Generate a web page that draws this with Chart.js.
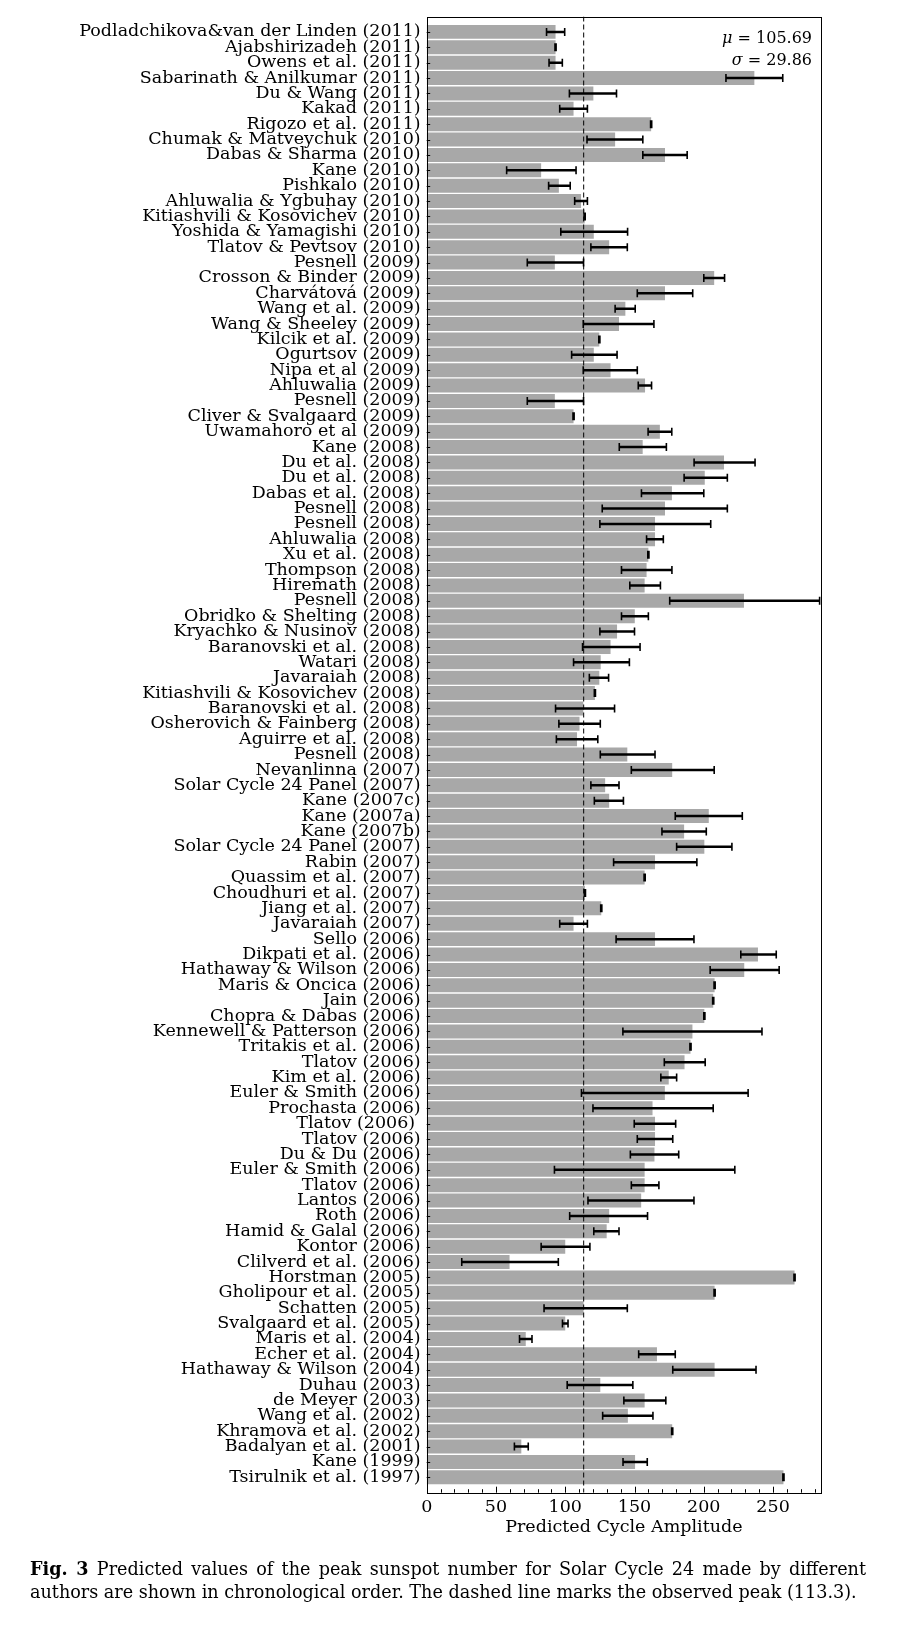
<!DOCTYPE html>
<html lang="en">
<head>
    <meta charset="UTF-8">
    <title>Predicted Solar Cycle 24 amplitudes</title>
    <script src="https://cdn.jsdelivr.net/npm/chart.js"></script>
    <style>
        html, body { margin: 0; padding: 0; background: #fff; }
        .wrap { position: relative; width: 906px; height: 1629px; }
        #amplitudeChart { position: absolute; left: 0; top: 0; }
        .caption {
            position: absolute; left: 30px; top: 1557px; width: 836px;
            font-family: "DejaVu Serif", serif; font-size: 17.6px; line-height: 23px; color: #000;
        }
        .caption .first { text-align: justify; text-align-last: justify; }
    </style>
</head>
<body>
    <div class="wrap">
        <canvas id="amplitudeChart" width="906" height="1629"></canvas>
        <div class="caption">
            <div class="first"><b>Fig. 3</b> Predicted values of the peak sunspot number for Solar Cycle 24 made by different</div>
            <div>authors are shown in chronological order. The dashed line marks the observed peak (113.3).</div>
        </div>
    </div>

    <script>
        // Predictions, in chronological order (top = newest)
        const authors = [
            'Podladchikova&van der Linden (2011)', 'Ajabshirizadeh (2011)', 'Owens et al. (2011)',
            'Sabarinath & Anilkumar (2011)', 'Du & Wang (2011)', 'Kakad (2011)', 'Rigozo et al. (2011)',
            'Chumak & Matveychuk (2010)', 'Dabas & Sharma (2010)', 'Kane (2010)', 'Pishkalo (2010)',
            'Ahluwalia & Ygbuhay (2010)', 'Kitiashvili & Kosovichev (2010)', 'Yoshida & Yamagishi (2010)',
            'Tlatov & Pevtsov (2010)', 'Pesnell (2009)', 'Crosson & Binder (2009)', 'Charvátová (2009)',
            'Wang et al. (2009)', 'Wang & Sheeley (2009)', 'Kilcik et al. (2009)', 'Ogurtsov (2009)',
            'Nipa et al (2009)', 'Ahluwalia (2009)', 'Pesnell (2009)', 'Cliver & Svalgaard (2009)',
            'Uwamahoro et al (2009)', 'Kane (2008)', 'Du et al. (2008)', 'Du et al. (2008)',
            'Dabas et al. (2008)', 'Pesnell (2008)', 'Pesnell (2008)', 'Ahluwalia (2008)', 'Xu et al. (2008)',
            'Thompson (2008)', 'Hiremath (2008)', 'Pesnell (2008)', 'Obridko & Shelting (2008)',
            'Kryachko & Nusinov (2008)', 'Baranovski et al. (2008)', 'Watari (2008)', 'Javaraiah (2008)',
            'Kitiashvili & Kosovichev (2008)', 'Baranovski et al. (2008)', 'Osherovich & Fainberg (2008)',
            'Aguirre et al. (2008)', 'Pesnell (2008)', 'Nevanlinna (2007)', 'Solar Cycle 24 Panel (2007)',
            'Kane (2007c)', 'Kane (2007a)', 'Kane (2007b)', 'Solar Cycle 24 Panel (2007)', 'Rabin (2007)',
            'Quassim et al. (2007)', 'Choudhuri et al. (2007)', 'Jiang et al. (2007)', 'Javaraiah (2007)',
            'Sello (2006)', 'Dikpati et al. (2006)', 'Hathaway & Wilson (2006)', 'Maris & Oncica (2006)',
            'Jain (2006)', 'Chopra & Dabas (2006)', 'Kennewell & Patterson (2006)', 'Tritakis et al. (2006)',
            'Tlatov (2006)', 'Kim et al. (2006)', 'Euler & Smith (2006)', 'Prochasta (2006)', 'Tlatov (2006) ',
            'Tlatov (2006)', 'Du & Du (2006)', 'Euler & Smith (2006)', 'Tlatov (2006)', 'Lantos (2006)',
            'Roth (2006)', 'Hamid & Galal (2006)', 'Kontor (2006)', 'Clilverd et al. (2006)', 'Horstman (2005)',
            'Gholipour et al. (2005)', 'Schatten (2005)', 'Svalgaard et al. (2005)', 'Maris et al. (2004)',
            'Echer et al. (2004)', 'Hathaway & Wilson (2004)', 'Duhau (2003)', 'de Meyer (2003)',
            'Wang et al. (2002)', 'Khramova et al. (2002)', 'Badalyan et al. (2001)', 'Kane (1999)',
            'Tsirulnik et al. (1997)'
        ];

        const amplitude = [
            93, 93, 93, 236.5, 120.3, 106, 162, 136, 172, 82.6, 95.4, 111.4, 114, 120.6, 131.7, 92.5,
            207.5, 172, 143.4, 138.8, 124.6, 120.6, 132.7, 157.6, 92.5, 106, 168.3, 155.9, 214.6, 200.7,
            177, 172, 164.8, 164.8, 160, 158.7, 157.3, 229, 150.2, 137.4, 132.7, 125.6, 124.6, 121.4,
            113, 110.3, 108.5, 144.8, 177.2, 128.8, 131.7, 203.6, 185.8, 200.4, 164.8, 157.3, 114.2, 126,
            106, 164.8, 239.1, 229.2, 207.8, 206.8, 200.4, 191.8, 190.4, 186.1, 174.7, 171.9, 163, 164.8,
            164.8, 164.4, 157.3, 157.3, 154.8, 131.7, 129.9, 100, 59.8, 265.5, 207.8, 113.2, 100, 71.5,
            166.2, 207.8, 125.3, 157.3, 145.2, 177.2, 68.3, 150.4, 257.5
        ];

        // error bar ends (low / high)
        const errLow = [
            86.5, 92.6, 88.3, 216, 103, 96, 161.6, 115.7, 156, 57.7, 88, 106.8, 113.6, 96.8, 118.5, 72.6,
            200, 152, 136, 113, 124.2, 104.6, 113, 152.7, 72.6, 105.6, 159.8, 139, 193, 185.8,
            155, 126.7, 125, 158.7, 159.6, 140.6, 146.6, 175.4, 140.6, 125, 112.5, 106, 117.4, 121,
            93, 95.4, 93.6, 125.3, 147.7, 118.5, 121, 179.4, 169.8, 180.4, 134.9, 156.9, 113.8, 125.6,
            96, 136.7, 226.7, 204.6, 207.4, 206.4, 200, 141.6, 190, 171.5, 169, 111.7, 120, 149.8,
            152, 147, 92.2, 147.7, 116.4, 103.2, 120.6, 82.6, 25.3, 265.1, 207.4, 84.7, 98, 67,
            153, 177.6, 101.4, 142.3, 127, 176.8, 63.3, 141.7, 257.1
        ];
        const errHigh = [
            99.6, 93.4, 97.9, 257, 137, 116, 162.4, 156, 188, 107.8, 103.6, 116, 114.4, 145, 144.8, 113.2,
            215, 192, 150.5, 164, 125, 137.4, 152, 162.3, 113.2, 106.4, 176.9, 173, 237, 217,
            200, 217, 205, 170.8, 160.4, 177, 168.7, 283.6, 160, 150, 154, 146.3, 131.3, 121.8,
            135.6, 125.3, 123.5, 164.8, 207.5, 138.8, 142, 227.8, 201.8, 220.3, 195, 157.7, 114.6, 126.4,
            116, 192.9, 252.3, 254.4, 208.2, 207.2, 200.8, 242, 190.8, 201, 180.4, 232, 206.8, 179.7,
            177.6, 181.9, 222.4, 167.6, 192.9, 159.4, 138.8, 117.8, 95, 265.9, 208.2, 144.8, 102, 76,
            179.4, 237.7, 148.8, 172.6, 163.3, 177.6, 73.3, 159.2, 257.9
        ];

        const xTicks = [0, 50, 100, 150, 200, 250];
        const observedPeak = 113.3;
        const statMu = '105.69';
        const statSigma = '29.86';

        const FONT = '"DejaVu Serif", serif';

        // error bars, dashed line, frame, inward ticks, stats box
        const decorations = {
            id: 'decorations',
            afterDatasetsDraw(chart) {
                const { ctx, chartArea: a, scales: { x, y } } = chart;
                ctx.save();
                ctx.beginPath();
                ctx.rect(a.left, a.top, a.right - a.left, a.bottom - a.top);
                ctx.clip();

                // observed peak
                const px = x.getPixelForValue(observedPeak);
                ctx.strokeStyle = '#000';
                ctx.lineWidth = 1;
                ctx.setLineDash([5, 3]);
                ctx.beginPath();
                ctx.moveTo(px, a.top);
                ctx.lineTo(px, a.bottom);
                ctx.stroke();
                ctx.setLineDash([]);

                // error bars
                authors.forEach((_, i) => {
                    const py = y.getPixelForValue(i);
                    const x1 = x.getPixelForValue(errLow[i]);
                    const x2 = x.getPixelForValue(errHigh[i]);
                    ctx.lineWidth = 2.5;
                    ctx.beginPath();
                    ctx.moveTo(x1, py);
                    ctx.lineTo(x2, py);
                    ctx.stroke();
                    ctx.lineWidth = 1.6;
                    ctx.beginPath();
                    ctx.moveTo(x1, py - 4);
                    ctx.lineTo(x1, py + 4);
                    ctx.moveTo(x2, py - 4);
                    ctx.lineTo(x2, py + 4);
                    ctx.stroke();
                });
                ctx.restore();
            },
            afterDraw(chart) {
                const { ctx, chartArea: a, scales: { x, y } } = chart;
                ctx.save();
                ctx.strokeStyle = '#000';
                ctx.lineWidth = 1;

                // inward ticks
                ctx.beginPath();
                authors.forEach((_, i) => {
                    const py = Math.round(y.getPixelForValue(i)) + 0.5;
                    ctx.moveTo(a.left, py);
                    ctx.lineTo(a.left + 3.5, py);
                });
                for (let v = 0; v <= 280; v += 10) {
                    const tx = Math.round(x.getPixelForValue(v)) + 0.5;
                    const len = xTicks.includes(v) ? 6 : 3.5;
                    ctx.moveTo(tx, a.bottom);
                    ctx.lineTo(tx, a.bottom - len);
                }
                ctx.stroke();

                // frame
                ctx.strokeRect(Math.round(a.left) + 0.5, Math.round(a.top) + 0.5,
                    Math.round(a.right - a.left), Math.round(a.bottom - a.top));

                // mu / sigma
                ctx.fillStyle = '#000';
                ctx.textBaseline = 'middle';
                ctx.textAlign = 'right';
                const rx = a.right - 9;
                [['\u03bc', statMu, a.top + 22.5], ['\u03c3', statSigma, a.top + 44.5]].forEach(([sym, val, ty]) => {
                    ctx.font = '16px ' + FONT;
                    const rest = ' = ' + val;
                    ctx.fillText(rest, rx, ty);
                    const w = ctx.measureText(rest).width;
                    ctx.font = 'italic 16px ' + FONT;
                    ctx.fillText(sym, rx - w, ty);
                });
                ctx.restore();
            }
        };

        const ctx = document.getElementById('amplitudeChart').getContext('2d');
        const amplitudeChart = new Chart(ctx, {
            type: 'bar',
            data: {
                datasets: [{
                    data: amplitude.map((v, i) => ({ x: v, y: i })),
                    backgroundColor: '#a8a8a8',
                    borderWidth: 0,
                    categoryPercentage: 1,
                    barPercentage: 0.91
                }]
            },
            options: {
                responsive: false,
                animation: false,
                indexAxis: 'y',
                layout: { padding: { top: 15.6, right: 85, bottom: 91.4, left: 0 } },
                plugins: { legend: { display: false }, tooltip: { enabled: false } },
                scales: {
                    y: {
                        type: 'linear',
                        reverse: true,
                        offset: false,
                        min: -1,
                        max: authors.length,
                        afterBuildTicks: (s) => { s.ticks = authors.map((_, i) => ({ value: i })); },
                        afterFit: (s) => { s.width = 426.7; },
                        grid: { display: false, drawTicks: false, offset: false },
                        border: { display: false },
                        ticks: {
                            autoSkip: false,
                            padding: 6,
                            color: '#000',
                            font: { family: FONT, size: 17.5 },
                            callback: (v) => authors[v]
                        }
                    },
                    x: {
                        type: 'linear',
                        min: 0,
                        max: 284.6,
                        afterBuildTicks: (s) => { s.ticks = xTicks.map((v) => ({ value: v })); },
                        afterFit: (s) => { s.height = 44.9; },
                        grid: { display: false, drawTicks: false },
                        border: { display: false },
                        ticks: {
                            padding: 4,
                            color: '#000',
                            font: { family: FONT, size: 17.5 },
                            maxRotation: 0
                        },
                        title: {
                            display: true,
                            text: 'Predicted Cycle Amplitude',
                            color: '#000',
                            padding: 0,
                            font: { family: FONT, size: 17.5 }
                        }
                    }
                }
            },
            plugins: [decorations]
        });
    </script>
</body>
</html>
